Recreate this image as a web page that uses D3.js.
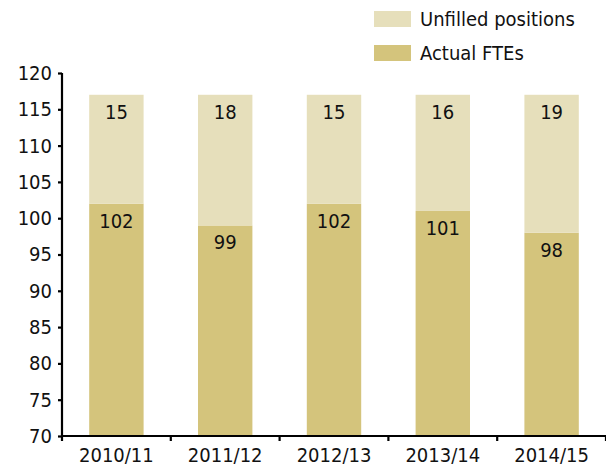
<!DOCTYPE html>
<html>
<head>
<meta charset="utf-8">
<script src="https://cdn.jsdelivr.net/npm/d3@7"></script>
<style>
  html, body { margin: 0; padding: 0; background: #fff; }
  svg text { font-family: "DejaVu Sans Condensed", "Liberation Sans Narrow", "Arial Narrow", sans-serif; font-stretch: condensed; fill: #111; }
</style>
</head>
<body>
<svg id="chart" width="606" height="471"></svg>
<script>
const years = ["2010/11", "2011/12", "2012/13", "2013/14", "2014/15"];
const actualFTEs = [102, 99, 102, 101, 98];
const unfilledPositions = [15, 18, 15, 16, 19];
const yTicks = [70, 75, 80, 85, 90, 95, 100, 105, 110, 115, 120];
const seriesNames = ["Unfilled positions", "Actual FTEs"];
const seriesColors = ["#E6DFBB", "#D4C47C"];

const svg = d3.select("#chart");
const margin = { left: 62, right: 0, top: 73, bottom: 35 };
const W = 606, H = 471;
const fontSize = 20;

const x = d3.scaleBand().domain(years).range([margin.left, W - margin.right]).paddingInner(0.5).paddingOuter(0.25);
const y = d3.scaleLinear().domain([70, 120]).range([H - margin.bottom, margin.top]);

const rows = years.map((yr, i) => ({ year: yr, actual: actualFTEs[i], unfilled: unfilledPositions[i] }));

// Actual FTEs (bottom segment)
svg.append("g").selectAll("rect").data(rows).join("rect")
  .attr("x", d => x(d.year))
  .attr("width", x.bandwidth())
  .attr("y", d => y(d.actual))
  .attr("height", d => y(70) - y(d.actual))
  .attr("fill", seriesColors[1]);

// Unfilled positions stacked on top
svg.append("g").selectAll("rect").data(rows).join("rect")
  .attr("x", d => x(d.year))
  .attr("width", x.bandwidth())
  .attr("y", d => y(d.actual + d.unfilled))
  .attr("height", d => y(d.actual) - y(d.actual + d.unfilled))
  .attr("fill", seriesColors[0]);

// Value labels near the top of each segment
const labels = svg.append("g").attr("font-size", fontSize).attr("text-anchor", "middle");
labels.selectAll("text.u").data(rows).join("text").attr("class", "u")
  .attr("x", d => x(d.year) + x.bandwidth() / 2)
  .attr("y", d => y(d.actual + d.unfilled) + 24)
  .text(d => d.unfilled);
labels.selectAll("text.a").data(rows).join("text").attr("class", "a")
  .attr("x", d => x(d.year) + x.bandwidth() / 2)
  .attr("y", d => y(d.actual) + 24)
  .text(d => d.actual);

// Y axis
const yAxis = svg.append("g")
  .attr("transform", `translate(${margin.left},0)`)
  .call(d3.axisLeft(y).tickValues(yTicks).tickSize(4).tickPadding(6));
yAxis.selectAll("text").attr("font-size", fontSize).style("font-family", null);
yAxis.attr("font-family", null);
yAxis.selectAll("line, path").attr("stroke", "#000").attr("stroke-width", 2.2);
yAxis.select("path").attr("d", `M0,${y(120)}V${y(70)}`);

// X axis with ticks at category boundaries
const xAxisG = svg.append("g").attr("transform", `translate(0,${y(70)})`);
xAxisG.append("line")
  .attr("x1", margin.left).attr("x2", W).attr("y1", 0).attr("y2", 0)
  .attr("stroke", "#000").attr("stroke-width", 2.2);
const step = x.step();
const bounds = d3.range(years.length + 1).map(i => x(years[0]) - step * x.paddingOuter() + i * step);
xAxisG.selectAll("line.tick").data(bounds).join("line").attr("class", "tick")
  .attr("x1", d => d).attr("x2", d => d).attr("y1", 0).attr("y2", 5)
  .attr("stroke", "#000").attr("stroke-width", 2.2);
xAxisG.selectAll("text").data(years).join("text")
  .attr("x", d => x(d) + x.bandwidth() / 2)
  .attr("y", 26)
  .attr("text-anchor", "middle")
  .attr("font-size", fontSize)
  .text(d => d);

// Legend
const legend = svg.append("g").attr("transform", "translate(374,11)");
seriesNames.forEach((name, i) => {
  const g = legend.append("g").attr("transform", `translate(0,${i * 34})`);
  g.append("rect").attr("width", 37).attr("height", 16).attr("fill", seriesColors[i]);
  g.append("text").attr("x", 46).attr("y", 15).attr("font-size", fontSize).text(name);
});
</script>
</body>
</html>
